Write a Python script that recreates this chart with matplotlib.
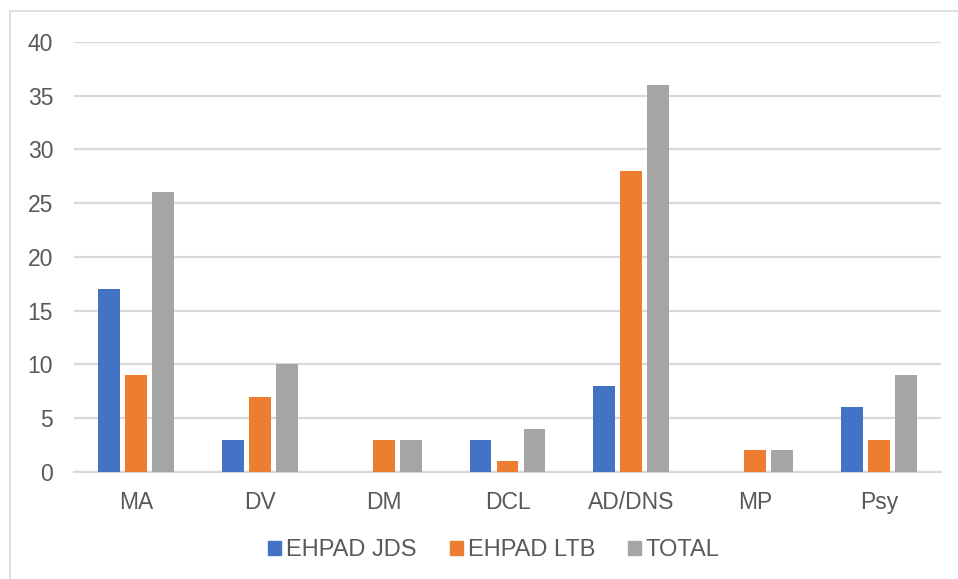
import matplotlib
matplotlib.use("Agg")
import matplotlib.pyplot as plt
import numpy as np
from matplotlib.patches import Rectangle
from matplotlib.lines import Line2D

categories = ["MA", "DV", "DM", "DCL", "AD/DNS", "MP", "Psy"]
jds = [17, 3, 0, 3, 8, 0, 6]
ltb = [9, 7, 3, 1, 28, 2, 3]
total = [26, 10, 3, 4, 36, 2, 9]
series_names = ["EHPAD JDS", "EHPAD LTB", "TOTAL"]
colors = ["#4472C4", "#ED7D31", "#A5A5A5"]
yticks = [0, 5, 10, 15, 20, 25, 30, 35, 40]

plt.rcParams['font.family'] = ['Liberation Sans', 'DejaVu Sans']
fig = plt.figure(figsize=(9.58, 5.79), dpi=100)
ax = fig.add_axes([0.0772, 0.1848, 0.9051, 0.7427])

x = np.arange(len(categories))
w = 0.177
off = 0.218
for i, (vals, c) in enumerate(zip([jds, ltb, total], colors)):
    ax.bar(x + (i - 1) * off, vals, width=w, color=c, zorder=3, label=series_names[i])

ax.set_xlim(-0.5, len(categories) - 0.5)
ax.set_ylim(0, 40)
ax.set_yticks(yticks)
ax.yaxis.grid(True, color="#D9D9D9", linewidth=1.6, zorder=0)
for s in ["top", "right", "left"]:
    ax.spines[s].set_visible(False)
ax.spines["bottom"].set_color("#D9D9D9")
ax.spines["bottom"].set_linewidth(1.6)
ax.set_xticks(x)
ax.set_xticklabels(categories)
ax.tick_params(axis="both", length=0, labelsize=16.5, colors="#595959")
ax.tick_params(axis="x", pad=14)
ax.tick_params(axis="y", pad=15)

handles = [Rectangle((0, 0), 1, 1, color=c) for c in colors]
fig.legend(handles, series_names, loc="center", bbox_to_anchor=(0.5157, 0.05), ncol=3,
           frameon=False, fontsize=17, labelcolor="#595959", handlelength=0.55,
           handleheight=0.55, handletextpad=0.22, columnspacing=1.38)

# chart border (left and top visible)
fig.add_artist(Line2D([10/958, 10/958], [0, 1 - 11/579], transform=fig.transFigure,
                      color="#D9D9D9", linewidth=1.2))
fig.add_artist(Line2D([10/958, 1], [1 - 11/579, 1 - 11/579], transform=fig.transFigure,
                      color="#D9D9D9", linewidth=1.2))

fig.savefig("out.png", dpi=100)
